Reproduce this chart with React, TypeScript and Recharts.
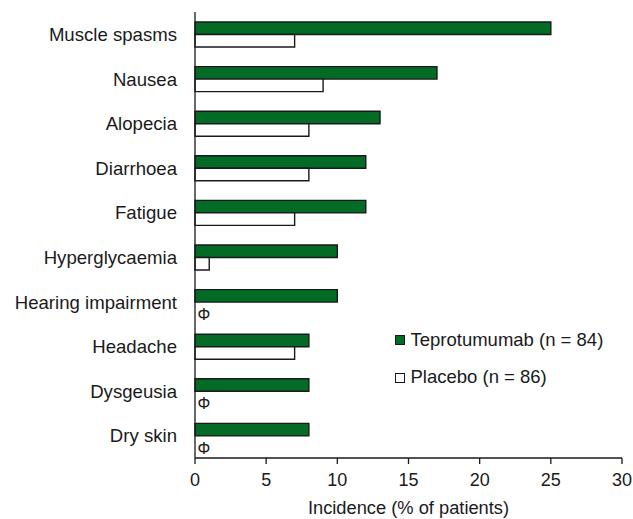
import React from 'react';
import { BarChart, Bar, XAxis, YAxis } from 'recharts';

const categories = [
  'Muscle spasms',
  'Nausea',
  'Alopecia',
  'Diarrhoea',
  'Fatigue',
  'Hyperglycaemia',
  'Hearing impairment',
  'Headache',
  'Dysgeusia',
  'Dry skin',
];
const teprotumumab = [25, 17, 13, 12, 12, 10, 10, 8, 8, 8];
const placebo = [7, 9, 8, 8, 7, 1, 0, 7, 0, 0];
const xTicks = [0, 5, 10, 15, 20, 25, 30];
const seriesNames = ['Teprotumumab (n = 84)', 'Placebo (n = 86)'];
const xTitle = 'Incidence (% of patients)';
const zeroSymbol = 'Φ';

const GREEN = '#036b26';
const INK = '#1a1a1a';
const FONT = '"Liberation Sans", Arial, Helvetica, sans-serif';

const data = categories.map((c, i) => ({
  category: c,
  tep: teprotumumab[i],
  pla: placebo[i],
}));

// Category tick; also marks a zero placebo value with Φ just right of the axis
const CategoryTick = (props: any) => {
  const { x, y, payload, index } = props;
  const idx = typeof payload?.index === 'number' ? payload.index : index;
  const isZero = placebo[idx] === 0;
  return (
    <g>
      <text
        x={x}
        y={y}
        dy="0.355em"
        textAnchor="end"
        fontSize={18.6}
        fontFamily={FONT}
        fill={INK}
      >
        {payload.value}
      </text>
      {isZero && (
        <text
          x={Number(x) + 20.5}
          y={Number(y) + 18}
          textAnchor="start"
          style={{ fontSize: '16px', fontFamily: FONT }}
          fill={INK}
        >
          {zeroSymbol}
        </text>
      )}
    </g>
  );
};

const LegendBox = () => {
  const fills = [GREEN, '#ffffff'];
  return (
    <div
      style={{
        position: 'absolute',
        left: 395,
        top: 321,
        width: 230,
        fontFamily: FONT,
      }}
    >
      {seriesNames.map((n, i) => (
        <div
          key={n}
          style={{ display: 'flex', alignItems: 'center', height: 37.7 }}
        >
          <div
            style={{
              width: 8,
              height: 8,
              background: fills[i],
              border: `1.3px solid ${INK}`,
            }}
          />
          <span style={{ marginLeft: 5.5, fontSize: 18.5, color: INK, lineHeight: 1 }}>
            {n}
          </span>
        </div>
      ))}
    </div>
  );
};

export default function App() {
  return (
    <div style={{ position: 'absolute', left: 0, top: 0, width: 633, height: 519, background: '#fff' }}>
      <BarChart
        width={633}
        height={519}
        data={data}
        layout="vertical"
        margin={{ top: 12, right: 11, bottom: 0, left: 0 }}
        barGap={0}
      >
        <XAxis
          type="number"
          domain={[0, 30]}
          ticks={xTicks}
          interval={0}
          height={61}
          tickSize={6}
          tickMargin={9}
          tick={{ fontSize: 18, fill: INK, fontFamily: FONT }}
          axisLine={{ stroke: INK, strokeWidth: 1.3 }}
          tickLine={{ stroke: INK, strokeWidth: 1.3 }}
          label={{
            value: xTitle,
            position: 'insideBottom',
            offset: 5,
            fontSize: 18.3,
            fill: INK,
            fontFamily: FONT,
          }}
        />
        <YAxis
          type="category"
          dataKey="category"
          width={195}
          interval={0}
          tickLine={false}
          tickSize={6}
          tickMargin={12}
          tick={<CategoryTick />}
          axisLine={{ stroke: INK, strokeWidth: 1.3 }}
        />
        <Bar
          dataKey="tep"
          name={seriesNames[0]}
          fill={GREEN}
          stroke={INK}
          strokeWidth={1.4}
          barSize={12.5}
          isAnimationActive={false}
        />
        <Bar
          dataKey="pla"
          name={seriesNames[1]}
          fill="#ffffff"
          stroke={INK}
          strokeWidth={1.4}
          barSize={12.5}
          isAnimationActive={false}
        />
      </BarChart>
      <LegendBox />
    </div>
  );
}
